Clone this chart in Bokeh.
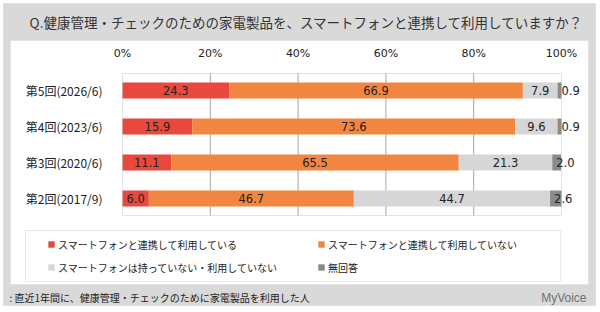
import numpy as np
from bokeh.plotting import figure
from bokeh.models import (ColumnDataSource, Range1d, FixedTicker, BoxAnnotation, LinearAxis,
                          Label, LabelSet, Legend, LegendItem, CustomJSTickFormatter)
from bokeh.core.properties import value
from bokeh.embed import file_html
from bokeh.resources import INLINE

# ---- data ----
categories = ["第5回(2026/6)", "第4回(2023/6)", "第3回(2020/6)", "第2回(2017/9)"]
series_names = ["スマートフォンと連携して利用している",
                "スマートフォンと連携して利用していない",
                "スマートフォンは持っていない・利用していない",
                "無回答"]
linked = [24.3, 15.9, 11.1, 6.0]
not_linked = [66.9, 73.6, 65.5, 46.7]
no_phone = [7.9, 9.6, 21.3, 44.7]
no_answer = [0.9, 0.9, 2.0, 2.6]
x_ticks = [0, 20, 40, 60, 80, 100]
title_text = "Q.健康管理・チェックのための家電製品を、スマートフォンと連携して利用していますか？"
footer_text = ":  直近1年間に、健康管理・チェックのために家電製品を利用した人"
brand_text = "MyVoice"

colors = ["#e8493c", "#f28640", "#d6d6d6", "#8a8a8a"]
keys = ["s0", "s1", "s2", "s3"]
JP = "Noto Sans CJK JP"
NUM = "DejaVu Sans"

# ---- layout (canvas pixels) ----
W, H = 600, 312
FL, FR, FT, FB = 122, 561, 73, 215      # plot area
ROW0, ROWSTEP = 90, 36                  # first row centre, row pitch
PXX = (FR - FL) / 100.0
x_start = -FL / PXX
x_end = 100 + (W - FR) / PXX
n = len(categories)
y_top = (n - 1) + ROW0 / ROWSTEP
y_bot = y_top - H / ROWSTEP

def dx(cx):
    return x_start + cx / PXX

def dy(cy):
    return y_top - cy / ROWSTEP

ypos = [n - 1 - i for i in range(n)]  # first category at top

data = {"cat": categories, "y": ypos, "s0": linked, "s1": not_linked, "s2": no_phone, "s3": no_answer}
src = ColumnDataSource(data)

p = figure(width=W, height=H, output_backend="svg", toolbar_location=None,
           x_range=Range1d(x_start, x_end), y_range=Range1d(y_bot, y_top),
           x_axis_location=None, y_axis_location=None, min_border=0)
p.border_fill_color = "white"
p.background_fill_color = "white"
p.outline_line_color = None
p.grid.visible = False

def box(l, r, t, b, **kw):
    return BoxAnnotation(left=dx(l), right=dx(r), top=dy(t), bottom=dy(b), **kw)

p.add_layout(box(3, 595, 3, 305, fill_color="#d9d9d9", fill_alpha=1, line_color="#c4c4c4", level="image"))
p.add_layout(box(10, 588, 40, 284, fill_color="white", fill_alpha=1, line_color="#cfcfcf", level="image"))

# grid lines across plot area only
p.segment(x0=x_ticks[1:-1], x1=x_ticks[1:-1], y0=[dy(FT)] * 4, y1=[dy(FB)] * 4,
          line_color="#a6a6a6", line_width=1)

renderers = p.hbar_stack(keys, y="y", height=0.45, color=colors, source=src, line_color=None)

# plot area outline
p.add_layout(box(FL, FR, FT, FB, fill_alpha=0, line_color="#a6a6a6", line_width=1))

# axes
xa = LinearAxis(fixed_location=dy(FT), ticker=FixedTicker(ticks=x_ticks),
                formatter=CustomJSTickFormatter(code="return tick + '%';"))
xa.axis_line_color = None
xa.major_tick_line_color = None
xa.minor_tick_line_color = None
xa.major_label_text_font = NUM
xa.major_label_text_font_size = "11px"
xa.major_label_text_color = "#222222"
xa.major_label_standoff = 8
p.add_layout(xa, "above")

ya = LinearAxis(fixed_location=0, ticker=FixedTicker(ticks=ypos),
                major_label_overrides={y: c for y, c in zip(ypos, categories)})
ya.axis_line_color = None
ya.major_tick_line_color = None
ya.minor_tick_line_color = None
ya.major_label_text_font = JP
ya.major_label_text_font_size = "12px"
ya.major_label_text_color = "#222222"
ya.major_label_standoff = 14
p.add_layout(ya, "left")

# data labels
vals = np.array([linked, not_linked, no_phone, no_answer], dtype=float)
cum = np.cumsum(vals, axis=0)
starts = cum - vals
centers = starts + vals / 2
lab_main = {"y": [], "x": [], "t": []}
for i in range(3):
    for j in range(n):
        lab_main["y"].append(ypos[j])
        lab_main["x"].append(centers[i, j])
        lab_main["t"].append(f"{vals[i, j]:.1f}")
p.add_layout(LabelSet(x="x", y="y", text="t", source=ColumnDataSource(lab_main),
                      text_align="center", text_baseline="middle", text_font=value(NUM),
                      text_font_size=value("11.5px"), text_color="#222222"))
lab_na = {"y": ypos, "x": list(starts[3]), "t": [f"{v:.1f}" for v in no_answer]}
p.add_layout(LabelSet(x="x", y="y", text="t", source=ColumnDataSource(lab_na), x_offset=4,
                      text_align="left", text_baseline="middle", text_font=value(NUM),
                      text_font_size=value("11.5px"), text_color="#222222"))

# legend
p.add_layout(box(25, 560, 230, 281, fill_alpha=0, line_color="#b0b0b0", line_width=1))
items = [LegendItem(label=series_names[k], renderers=[renderers[k]]) for k in range(4)]
legend = Legend(items=items, location=(47, H - 275), orientation="horizontal", ncols=2,
                glyph_width=8, glyph_height=8, label_height=16, label_width=252,
                label_standoff=3, spacing=7, padding=0, margin=0,
                label_text_font=JP, label_text_font_size="10px", label_text_color="#222222",
                border_line_alpha=0, background_fill_alpha=0)
p.add_layout(legend)

# texts
p.add_layout(Label(x=dx(306), y=dy(21), text=title_text,
                   text_align="center", text_baseline="middle", text_font=JP,
                   text_font_size="13.5px", text_color="#333333"))
p.add_layout(Label(x=dx(9), y=dy(297), text=footer_text,
                   text_align="left", text_baseline="middle", text_font=JP,
                   text_font_size="10px", text_color="#222222"))
p.add_layout(Label(x=dx(586), y=dy(297), text=brand_text,
                   text_align="right", text_baseline="middle", text_font="Liberation Sans",
                   text_font_size="12px", text_color="#707070"))

open("out.html", "w").write(file_html(p, INLINE))
